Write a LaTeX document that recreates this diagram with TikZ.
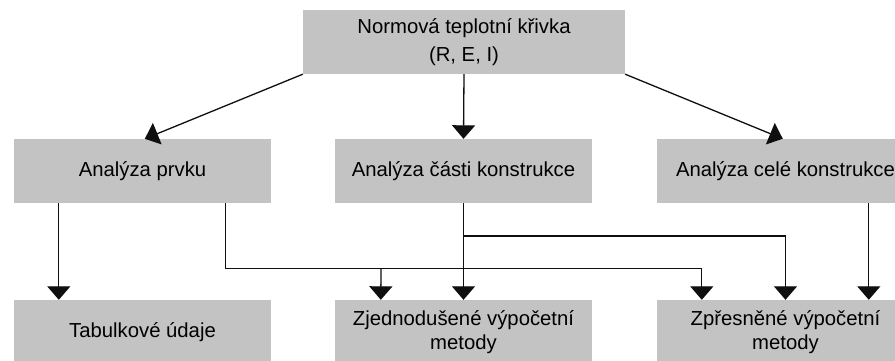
\documentclass[tikz,border=0pt]{standalone}
\usepackage{fontspec}
\setmainfont{Liberation Sans}
\usetikzlibrary{arrows.meta}
\definecolor{boxgray}{RGB}{195,195,195}
\definecolor{inkline}{RGB}{15,15,15}
\tikzset{
  box/.style={fill=boxgray, draw=none, minimum width=257pt, minimum height=64pt,
    inner sep=0pt, align=center, text=black, font=\fontsize{20.3}{23.5}\selectfont},
  arr/.style={draw=inkline, line width=1.3pt, -{Triangle[width=23pt,length=13.5pt]}},
}
\begin{document}
\begin{tikzpicture}[x=1pt,y=-1pt]
\path[fill=white,use as bounding box] (0,0) rectangle (895,360);
\begin{scope}
\clip (0,0) rectangle (895,360);
\node[box, minimum width=322pt, font=\fontsize{20.3}{28.5}\selectfont] (top) at (464,42) {Normová teplotní křivka\\(R, E, I)};
\node[box] (prvek) at (142.5,171) {Analýza prvku};
\node[box] (cast) at (463.5,171) {Analýza části konstrukce};
\node[box] (cela) at (785.5,171) {Analýza celé konstrukce};
\node[box] (tab) at (142.5,332) {Tabulkové údaje};
\node[box] (zjed) at (463.5,332) {Zjednodušené výpočetní\\metody};
\node[box] (zpr) at (785.5,332) {Zpřesněné výpočetní\\metody};

\coordinate (j1) at (381,268);
\coordinate (j2) at (463.5,236);

\draw[arr] (top.south west) -- ([xshift=131pt]prvek.north west);
\draw[arr] (top.south) -- (cast.north);
\draw[arr] (top.south east) -- ([xshift=126pt]cela.north west);

\draw[arr] ([xshift=45pt]prvek.south west) -- ([xshift=45pt]tab.north west);
\draw[arr] ([xshift=212pt]prvek.south west) -- ++(0,65) -| ([xshift=45pt]zpr.north west);
\draw[arr] (j1) -- ([xshift=46pt]zjed.north west);
\draw[arr] (cast.south) -- (zjed.north);
\draw[arr] (j2) -| (zpr.north);
\draw[arr] ([xshift=212pt]cela.south west) -- ([xshift=212pt]zpr.north west);
\end{scope}
\end{tikzpicture}
\end{document}
